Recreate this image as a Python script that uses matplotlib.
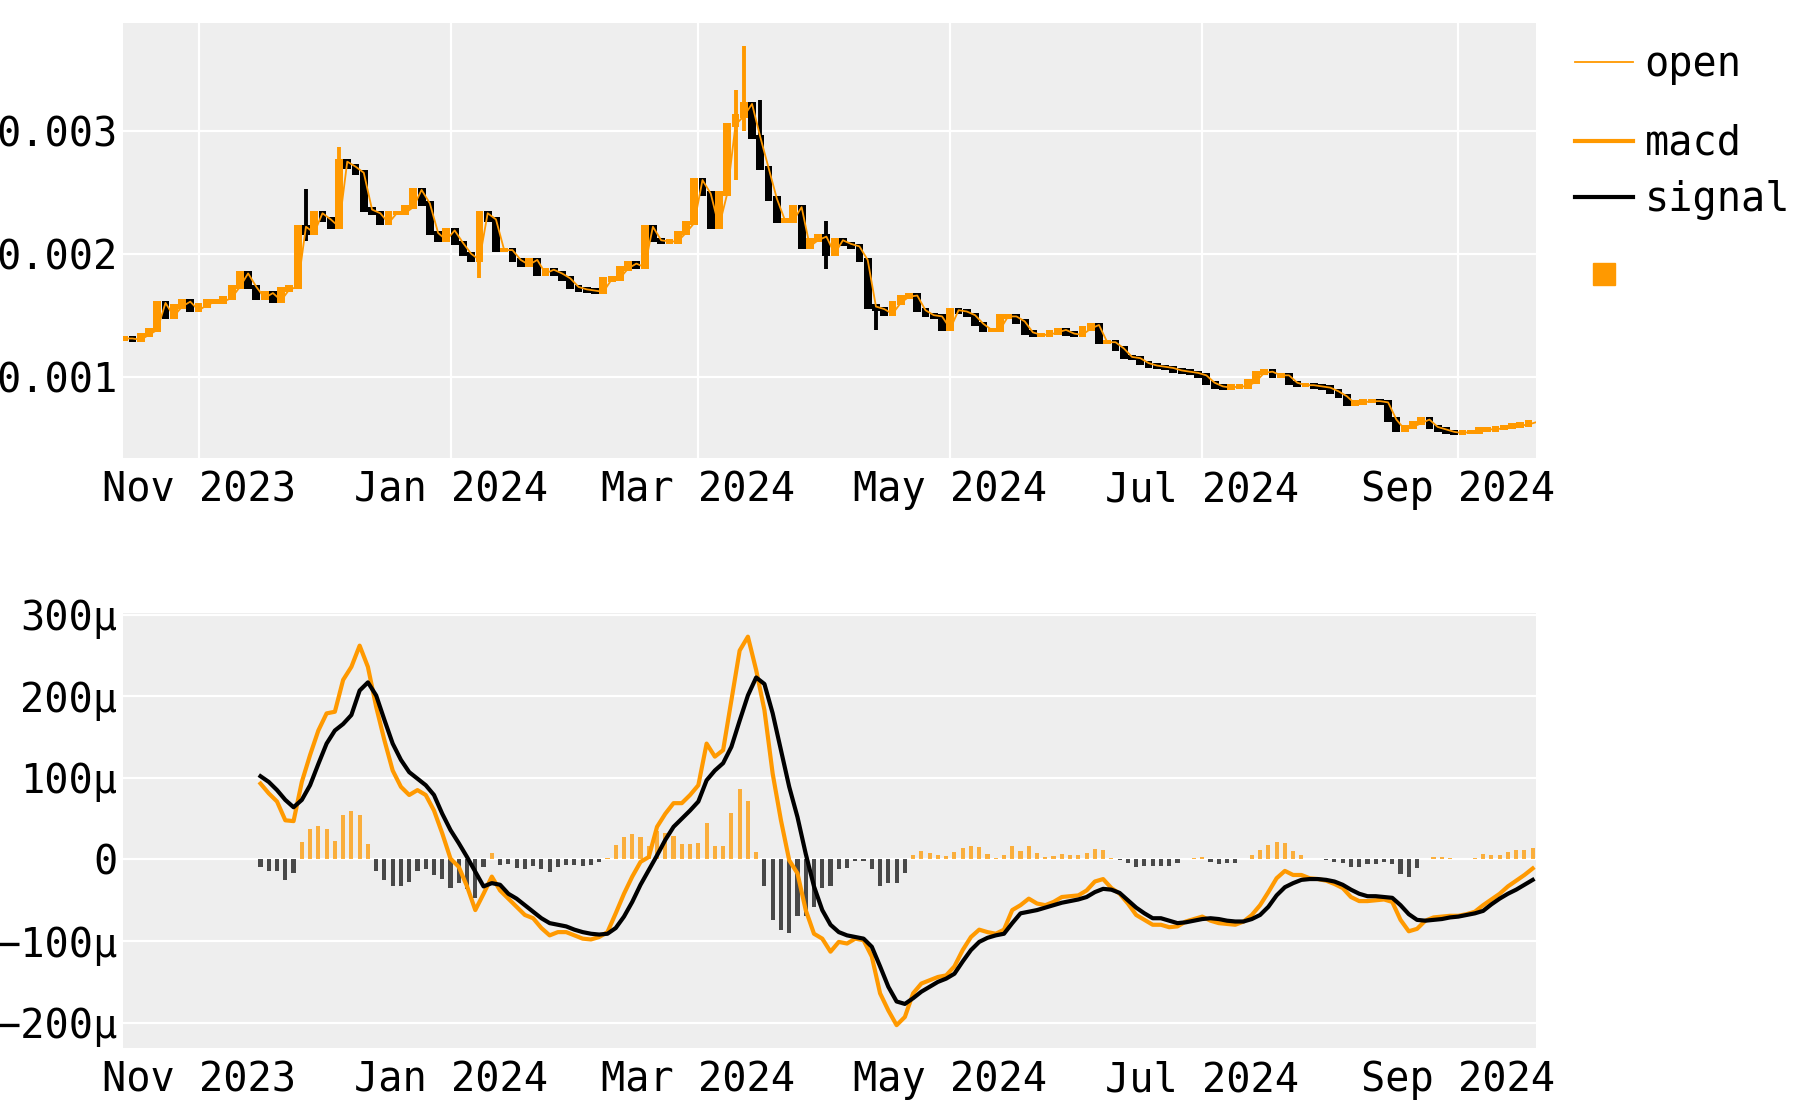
import numpy as np
import pandas as pd
import matplotlib
matplotlib.use("Agg")
import matplotlib.pyplot as plt
import matplotlib.dates as mdates
from matplotlib.ticker import FixedLocator, FuncFormatter, FormatStrFormatter
from matplotlib.lines import Line2D

# price (x 1e-3), sampled every 2 days from 2023-10-14
price_start = "2023-10-14"
price = [
    1.31, 1.31, 1.30, 1.34, 1.38, 1.60, 1.49, 1.57, 1.61, 1.54,
    1.58, 1.61, 1.61, 1.64, 1.73, 1.84, 1.73, 1.64, 1.68, 1.62,
    1.71, 1.73, 2.22, 2.17, 2.33, 2.28, 2.22, 2.75, 2.71, 2.66,
    2.36, 2.33, 2.25, 2.33, 2.33, 2.38, 2.52, 2.41, 2.17, 2.11,
    2.19, 2.09, 2.00, 1.95, 2.33, 2.28, 2.03, 2.03, 1.95, 1.91,
    1.95, 1.84, 1.87, 1.84, 1.80, 1.73, 1.71, 1.70, 1.69, 1.79,
    1.80, 1.88, 1.92, 1.89, 2.22, 2.11, 2.10, 2.10, 2.17, 2.25,
    2.60, 2.49, 2.22, 2.49, 3.05, 3.12, 3.22, 2.95, 2.70, 2.45,
    2.27, 2.27, 2.38, 2.06, 2.11, 2.14, 2.00, 2.11, 2.08, 2.06,
    1.95, 1.57, 1.55, 1.51, 1.60, 1.65, 1.66, 1.54, 1.50, 1.49,
    1.39, 1.54, 1.53, 1.50, 1.43, 1.38, 1.38, 1.49, 1.49, 1.45,
    1.36, 1.34, 1.34, 1.36, 1.38, 1.35, 1.34, 1.39, 1.42, 1.28,
    1.28, 1.23, 1.16, 1.15, 1.11, 1.09, 1.08, 1.07, 1.05, 1.04,
    1.03, 1.01, 0.95, 0.92, 0.91, 0.92, 0.92, 0.96, 1.03, 1.04,
    1.01, 1.01, 0.95, 0.93, 0.93, 0.92, 0.91, 0.88, 0.84, 0.78,
    0.79, 0.80, 0.80, 0.79, 0.65, 0.57, 0.59, 0.62, 0.65, 0.59,
    0.57, 0.55, 0.54, 0.55, 0.55, 0.57, 0.57, 0.58, 0.59, 0.60,
    0.61, 0.63,
]

# wicks that stick out of the bodies (x 1e-3)
spike_date = ["2023-11-27", "2023-12-05", "2024-01-08", "2024-03-10",
              "2024-03-12", "2024-03-16", "2024-04-01", "2024-04-13"]
spike_low = [2.10, 2.20, 1.80, 2.60, 3.00, 2.70, 1.88, 1.38]
spike_high = [2.53, 2.87, 1.97, 3.33, 3.69, 3.25, 2.27, 1.57]

# macd / signal (x 1e-6), every 2 days from 2023-11-16
macd_start = "2023-11-16"
macd = [
    93, 81, 71, 48, 47, 95, 128, 158, 179, 181,
    220, 236, 262, 236, 187, 146, 109, 89, 79, 85,
    79, 60, 32, 1, -9, -33, -62, -42, -21, -38,
    -48, -58, -68, -72, -84, -93, -89, -89, -93, -97,
    -98, -95, -89, -66, -42, -21, -3, 3, 40, 56,
    69, 69, 79, 91, 142, 126, 134, 195, 256, 273,
    232, 183, 105, 48, -1, -17, -62, -91, -97, -113,
    -101, -103, -97, -99, -119, -164, -185, -203, -193, -164,
    -152, -148, -144, -142, -131, -111, -95, -86, -89, -91,
    -86, -62, -56, -48, -54, -56, -52, -46, -45, -44,
    -38, -27, -24, -35, -42, -54, -68, -74, -80, -80,
    -83, -82, -76, -73, -70, -75, -78, -79, -80, -76,
    -68, -56, -40, -23, -14, -19, -19, -23, -24, -26,
    -30, -35, -46, -51, -51, -50, -49, -52, -74, -88,
    -85, -75, -71, -70, -69, -69, -67, -64, -56, -49,
    -42, -33, -26, -19, -11,
]
signal = [
    102, 95, 85, 73, 64, 73, 91, 117, 142, 158,
    166, 177, 207, 217, 201, 171, 142, 122, 107, 99,
    91, 79, 56, 36, 20, 3, -15, -33, -29, -31,
    -42, -48, -56, -64, -72, -78, -80, -82, -86, -89,
    -91, -92, -91, -84, -70, -52, -31, -13, 5, 24,
    40, 50, 60, 71, 97, 109, 118, 138, 170, 201,
    223, 215, 179, 134, 89, 52, 7, -33, -62, -80,
    -89, -93, -95, -97, -107, -131, -156, -174, -177, -170,
    -162, -156, -150, -146, -140, -125, -111, -101, -96, -93,
    -91, -78, -66, -64, -62, -59, -56, -53, -51, -49,
    -46, -40, -36, -37, -41, -50, -59, -66, -72, -72,
    -75, -78, -77, -75, -73, -72, -73, -75, -76, -76,
    -73, -68, -58, -44, -34, -29, -25, -24, -24, -25,
    -27, -31, -37, -42, -45, -45, -46, -47, -56, -67,
    -74, -75, -74, -73, -71, -70, -68, -66, -63, -55,
    -48, -42, -37, -31, -25,
]

ORANGE = "#FF9900"
BG = "#EEEEEE"

plt.rcParams["font.family"] = ["DejaVu Sans Mono"]
plt.rcParams["font.size"] = 29

p = np.array(price) * 1e-3
p_dates = pd.date_range(price_start, periods=len(p), freq="2D").to_pydatetime()
opens, closes = p[:-1], p[1:]
up = closes >= opens
candle_col = np.where(up, ORANGE, "black")
body_pad = 0.018e-3  # keeps flat candles visible as a thin band
body_lo = np.minimum(opens, closes) - body_pad
body_h = np.abs(closes - opens) + 2 * body_pad

m = np.array(macd) * 1e-6
s = np.array(signal) * 1e-6
hist = m - s
m_dates = pd.date_range(macd_start, periods=len(m), freq="2D").to_pydatetime()

fig = plt.figure(figsize=(18, 11), dpi=100)
W, H = 1800, 1100
ax1 = fig.add_axes([123 / W, 1 - 458 / H, (1536 - 123) / W, (458 - 23) / H])
ax2 = fig.add_axes([123 / W, 1 - 1048 / H, (1536 - 123) / W, (1048 - 613) / H])

x0 = pd.Timestamp(price_start) - pd.Timedelta(hours=7)
x1 = pd.Timestamp(price_start) + pd.Timedelta(days=341.8)

for ax in (ax1, ax2):
    ax.set_facecolor(BG)
    for sp in ax.spines.values():
        sp.set_visible(False)
    ax.set_axisbelow(True)
    ax.set_xlim(x0, x1)
    ax.xaxis.set_major_locator(mdates.MonthLocator(bymonth=[1, 3, 5, 7, 9, 11]))
    ax.xaxis.set_major_formatter(mdates.DateFormatter("%b %Y"))
    ax.tick_params(length=0, labelsize=29)
    ax.tick_params(axis="x", pad=9)
    ax.tick_params(axis="y", pad=4)
    ax.grid(True, axis="y", color="white", lw=1.6)

ax1.grid(True, axis="x", color="white", lw=1.6)

# candles
ax1.bar(p_dates[:-1], body_h, bottom=body_lo, width=1.9,
        color=candle_col, linewidth=0, zorder=2)
sp_dates = pd.to_datetime(spike_date).to_pydatetime()
sp_idx = [(d - p_dates[0]).days // 2 for d in sp_dates]
ax1.vlines(sp_dates, np.array(spike_low) * 1e-3, np.array(spike_high) * 1e-3,
           colors=[candle_col[i] for i in sp_idx], lw=2.8, zorder=2)
open_line, = ax1.plot(p_dates, p, color=ORANGE, lw=1.3, zorder=3)
ax1.set_ylim(0.337e-3, 3.879e-3)
ax1.yaxis.set_major_locator(FixedLocator([0.001, 0.002, 0.003]))
ax1.yaxis.set_major_formatter(FormatStrFormatter("%.3f"))

# macd panel
ax2.bar(m_dates, hist, width=1.0, color=np.where(hist >= 0, ORANGE, "#111111"),
        alpha=0.75, linewidth=0, zorder=2)
macd_line, = ax2.plot(m_dates, m, color=ORANGE, lw=3.0, zorder=3)
signal_line, = ax2.plot(m_dates, s, color="black", lw=3.0, zorder=4)
ax2.set_ylim(-231e-6, 302e-6)
ax2.yaxis.set_major_locator(FixedLocator([-200e-6, -100e-6, 0, 100e-6, 200e-6, 300e-6]))


def micro(v, pos):
    if abs(v) < 1e-12:
        return "0"
    return f"{v * 1e6:.0f}μ".replace("-", "\u2212")


ax2.yaxis.set_major_formatter(FuncFormatter(micro))

# legends
kw = dict(loc="center left", frameon=False, borderpad=0, borderaxespad=0,
          handlelength=1.45, handletextpad=0.28, fontsize=29)
fig.legend([Line2D([], [], color=ORANGE, lw=1.3)], ["open"],
           bbox_to_anchor=(1575 / W, 1 - 65 / H), **kw)
fig.legend([Line2D([], [], color=ORANGE, lw=3.0), Line2D([], [], color="black", lw=3.0)],
           ["macd", "signal"], labelspacing=0.4,
           bbox_to_anchor=(1575 / W, 1 - 172 / H), **kw)
fig.legend([Line2D([], [], color=ORANGE, marker="s", ls="none", ms=16)], [""],
           bbox_to_anchor=(1575 / W, 1 - 277 / H), **kw)

fig.savefig("out.png", dpi=100)
